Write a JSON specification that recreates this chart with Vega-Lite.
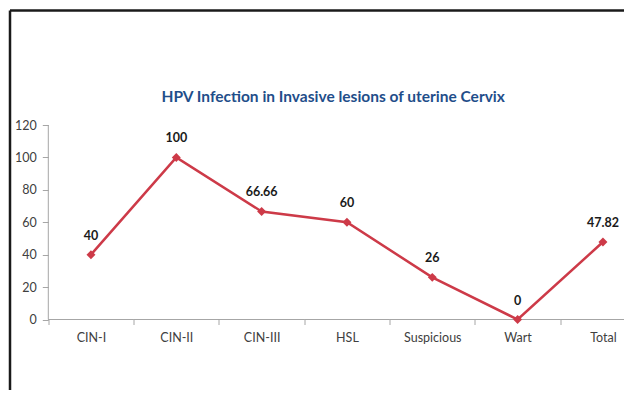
{
  "$schema": "https://vega.github.io/schema/vega-lite/v6.json",
  "autosize": {"type": "none"},
  "padding": {"left": 9.5, "top": 10, "right": 0, "bottom": 0},
  "width": 614.5,
  "height": 380,
  "background": "white",
  "config": {
    "view": {"stroke": null},
    "font": "Lato"
  },
  "title": {
    "text": "HPV Infection in Invasive lesions of uterine Cervix",
    "color": "#1F4E8A",
    "fontSize": 15.5,
    "fontWeight": "bold",
    "font": "Lato",
    "anchor": "start",
    "dx": 152,
    "dy": 99
  },
  "data": {
    "values": [
      {"category": "CIN-I", "value": 40, "label": "40"},
      {"category": "CIN-II", "value": 100, "label": "100"},
      {"category": "CIN-III", "value": 66.66, "label": "66.66"},
      {"category": "HSL", "value": 60, "label": "60"},
      {"category": "Suspicious", "value": 26, "label": "26"},
      {"category": "Wart", "value": 0, "label": "0"},
      {"category": "Total", "value": 47.82, "label": "47.82"}
    ]
  },
  "resolve": {
    "scale": {"x": "independent", "y": "independent"},
    "axis": {"x": "independent", "y": "independent"}
  },
  "layer": [
    {
      "encoding": {
        "x": {
          "field": "category",
          "type": "nominal",
          "sort": null,
          "scale": {
            "domain": ["CIN-I", "CIN-II", "CIN-III", "HSL", "Suspicious", "Wart", "Total"],
            "range": [38.8, 636.1],
            "paddingInner": 0,
            "paddingOuter": 0
          },
          "axis": {
            "title": null,
            "orient": "bottom",
            "offset": -70.5,
            "domain": false,
            "tickBand": "extent",
            "tickSize": 5,
            "tickColor": "#a6a6a6",
            "labelAngle": 0,
            "labelPadding": 7,
            "labelFontSize": 12.5,
            "labelColor": "#404040",
            "labelFont": "Lato"
          }
        },
        "y": {
          "field": "value",
          "type": "quantitative",
          "scale": {"domain": [-58.3, 190.95], "range": [404, 0], "nice": false, "zero": false},
          "axis": {
            "title": null,
            "orient": "left",
            "offset": -38.8,
            "domain": false,
            "grid": false,
            "values": [0, 20, 40, 60, 80, 100, 120],
            "tickSize": 6,
            "tickColor": "#a6a6a6",
            "labelPadding": 6,
            "labelFontSize": 12.5,
            "labelColor": "#404040",
            "labelFont": "Lato"
          }
        }
      },
      "layer": [
        {
          "transform": [{"filter": "datum.category === 'CIN-I'"}],
          "mark": {"type": "rule", "color": "#a6a6a6", "strokeWidth": 1},
          "encoding": {
            "x": {"field": "category", "type": "nominal", "bandPosition": 0},
            "y": {"datum": 0},
            "y2": {"datum": 120}
          }
        },
        {
          "mark": {"type": "rect", "fill": null, "stroke": "#a6a6a6", "strokeWidth": 1},
          "encoding": {
            "y": {"datum": 0},
            "y2": {"datum": 0}
          }
        },
        {
          "mark": {"type": "line", "color": "#CD3A48", "strokeWidth": 2.5}
        },
        {
          "mark": {"type": "point", "shape": "diamond", "filled": true, "color": "#CD3A48", "size": 80, "opacity": 1}
        },
        {
          "mark": {"type": "text", "dy": -19, "fontWeight": "bold", "fontSize": 12.5, "color": "#1a1a1a", "font": "Lato"},
          "encoding": {"text": {"field": "label"}}
        }
      ]
    },
    {
      "data": {"values": [{"frame": "a", "v": 0}]},
      "mark": {"type": "point", "opacity": 0},
      "encoding": {
        "x": {
          "field": "frame",
          "type": "nominal",
          "scale": {"range": [0, 614.5]},
          "axis": {
            "title": null,
            "orient": "top",
            "domain": true,
            "domainColor": "#1a1a1a",
            "domainWidth": 2.5,
            "ticks": false,
            "labels": false
          }
        },
        "y": {
          "field": "v",
          "type": "quantitative",
          "scale": {"domain": [0, 1], "range": [404, 0]},
          "axis": {
            "title": null,
            "orient": "left",
            "domain": true,
            "domainColor": "#1a1a1a",
            "domainWidth": 2.5,
            "ticks": false,
            "labels": false,
            "grid": false
          }
        }
      }
    }
  ]
}
